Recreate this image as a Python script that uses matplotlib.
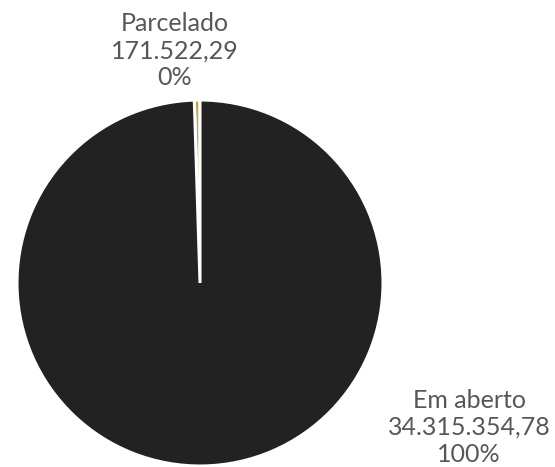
import matplotlib
matplotlib.use("Agg")
import matplotlib.pyplot as plt

categories = ['Parcelado', 'Em aberto']
values = [171522.29, 34315354.78]
colors = ['#c9a043', '#222222']

plt.rcParams['font.family'] = ['Lato', 'DejaVu Sans']


def fmt_br(v):
    s = f"{v:,.2f}"
    return s.replace(',', 'X').replace('.', ',').replace('X', '.')


fig = plt.figure(figsize=(5.55, 4.67), dpi=100)
r = 183
ax = fig.add_axes([(200 - r) / 555, (467 - 283 - r) / 467, 2 * r / 555, 2 * r / 467])
ax.pie(values, colors=colors, startangle=90, counterclock=True, radius=1,
       wedgeprops=dict(edgecolor='white', linewidth=2.2))
ax.set_xlim(-1, 1)
ax.set_ylim(-1, 1)
ax.set_aspect('equal')
ax.axis('off')

total = sum(values)
label_pos = [(-0.137, 1.27), (1.47, -0.79)]
for name, v, (x, y) in zip(categories, values, label_pos):
    txt = f"{name}\n{fmt_br(v)}\n{v / total * 100:.0f}%"
    ax.text(x, y, txt, ha='center', va='center', fontsize=18, color='#575757',
            linespacing=1.2, clip_on=False)

fig.savefig('out.png', dpi=100)
